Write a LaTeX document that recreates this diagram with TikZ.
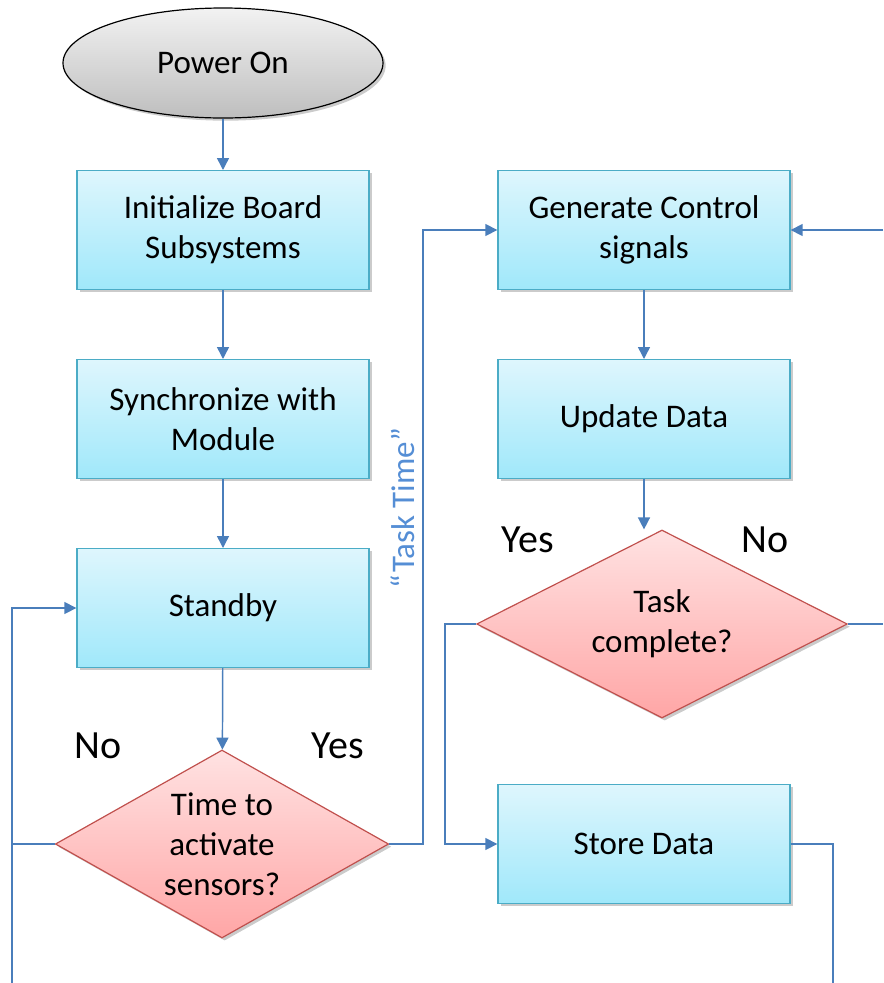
\documentclass[tikz,border=0pt]{standalone}
\usepackage{fontspec}
\setmainfont{Carlito}
\usetikzlibrary{shapes.geometric,arrows.meta,shadows}
\definecolor{flowblue}{RGB}{74,126,187}
\definecolor{tasktext}{RGB}{85,142,213}
\definecolor{boxedge}{RGB}{75,172,198}
\definecolor{boxtop}{RGB}{222,246,253}
\definecolor{boxbot}{RGB}{160,232,250}
\definecolor{decedge}{RGB}{192,80,77}
\definecolor{dectop}{RGB}{255,226,226}
\definecolor{decbot}{RGB}{255,166,166}
\definecolor{pwrtop}{RGB}{242,242,242}
\definecolor{pwrbot}{RGB}{190,190,190}
\begin{document}
\begin{tikzpicture}
    [x=0.75pt, y=-0.75pt,
    every node/.style = {font=\fontsize{24.75}{30}\selectfont},
    shade/.style = {drop shadow={shadow xshift=2pt, shadow yshift=-2pt,
                                 fill=black!45, opacity=0.45}},
    proc/.style = {rectangle, draw=boxedge, line width=1pt,
                   top color=boxtop, bottom color=boxbot,
                   minimum width=219pt, minimum height=89pt,
                   align=center, shade},
    decide/.style = {diamond, draw=decedge, line width=0.9pt,
                     top color=dectop, bottom color=decbot,
                     inner sep=0pt, aspect=1.77,
                     minimum width=250pt, minimum height=141pt,
                     align=center, shade},
    start/.style = {ellipse, draw=black, line width=0.9pt,
                    top color=pwrtop, bottom color=pwrbot,
                    minimum width=240pt, minimum height=82.5pt, shade},
    flow/.style = {draw=flowblue, line width=1.1pt},
    arr/.style = {flow, -{Triangle[length=9pt, width=9pt]}},
    answer/.style = {font=\fontsize{30}{36}\selectfont}]
    \useasboundingbox (0,0) rectangle (883,983);
    \node[start] (pwr) at (223,63) {Power On};
    \node[proc] (init) at (223,230) {Initialize Board\\Subsystems};
    \node[proc] (sync) at (223,419) {Synchronize with\\Module};
    \node[proc] (stby) at (223,608) {Standby};
    \node[decide] (tact) at (222,844) {Time to\\activate\\sensors?};
    \node[proc] (gen) at (644,230) {Generate Control\\signals};
    \node[proc] (upd) at (644,419) {Update Data};
    \node[decide, aspect=1.97, minimum width=278pt] (tc) at (662,624) {Task\\complete?};
    \node[proc] (store) at (644,844) {Store Data};
    \coordinate (lb) at (12,983);
    \coordinate (tt) at (423,0);
    \coordinate (sk) at (445,0);
    \coordinate (rin) at (883,230);
    \coordinate (rout) at (883,624);
    \coordinate (sb) at (833,983);
    \draw[arr] (pwr) -- (init);
    \draw[arr] (init) -- (sync);
    \draw[arr] (sync) -- (stby);
    \draw[arr] (stby) -- (tact);
    \draw[arr] (lb) |- (stby.west);
    \draw[flow] (tact.west) -- (tact.west -| lb);
    \draw[arr] (tact.east) -- (tact.east -| tt) |- (gen.west);
    \draw[arr] (gen) -- (upd);
    \draw[arr] (upd.south) -- (upd.south |- tc.north);
    \draw[arr] (tc.west) -- (tc.west -| sk) |- (store.west);
    \draw[flow] (tc.east) -- (rout);
    \draw[arr] (rin) -- (gen.east);
    \draw[flow] (store.east) -| (sb);
    \node[answer] (no1) at (98,746) {No};
    \node[answer] (yes1) at (338,746) {Yes};
    \node[answer] (yes2) at (528,540) {Yes};
    \node[answer] (no2) at (765,540) {No};
    \node[rotate=90, text=tasktext] (task) at (403,508) {“Task Time”};
\end{tikzpicture}
\end{document}
